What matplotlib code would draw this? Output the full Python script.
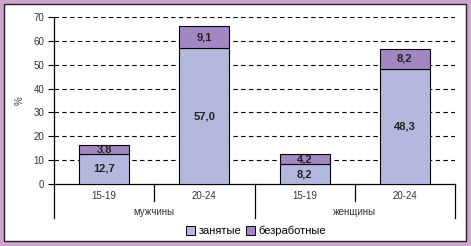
import matplotlib
import matplotlib.pyplot as plt
from matplotlib.patches import Rectangle
from matplotlib.lines import Line2D

matplotlib.use("Agg")

plt.rcParams["font.family"] = ["Liberation Sans", "DejaVu Sans"]

ages = ["15-19", "20-24", "15-19", "20-24"]
groups = ["мужчины", "женщины"]
employed = [12.7, 57.0, 8.2, 48.3]
unemployed = [3.8, 9.1, 4.2, 8.2]
series_names = ["занятые", "безработные"]

c_emp = "#b5b8de"
c_unemp = "#a287c2"
border = "#cfa5d0"

fig = plt.figure(figsize=(4.71, 2.46), dpi=100)
fig.patch.set_facecolor(border)

# white inner panel with dark frame
panel = Rectangle((4 / 471, 5 / 246), 462 / 471, 237 / 246, transform=fig.transFigure,
                  facecolor="white", edgecolor="#222222", linewidth=1.0, zorder=-5)
fig.patches.append(panel)

ax = fig.add_axes([54 / 471, 1 - 184 / 246, 401 / 471, 167 / 246])
ax.set_facecolor("none")
ax.set_zorder(2)

x = range(len(ages))
ax.bar(x, employed, width=0.5, color=c_emp, edgecolor="black", linewidth=0.8, zorder=3)
ax.bar(x, unemployed, bottom=employed, width=0.5, color=c_unemp, edgecolor="black",
       linewidth=0.8, zorder=3)

for i in x:
    ax.text(i, employed[i] / 2, f"{employed[i]:.1f}".replace(".", ","), ha="center",
            va="center", fontsize=8, fontweight="bold", color="#222222", zorder=4)
    ax.text(i, employed[i] + unemployed[i] / 2, f"{unemployed[i]:.1f}".replace(".", ","),
            ha="center", va="center", fontsize=8, fontweight="bold", color="#222222", zorder=4)

ax.set_xlim(-0.5, len(ages) - 0.5)
ax.set_ylim(0, 70)
ax.set_yticks(range(0, 71, 10))
ax.tick_params(axis="y", labelsize=7, length=4, width=0.8, direction="out", pad=3,
               labelcolor="#333333")
ax.set_xticks([])
for yv in range(10, 71, 10):
    ax.axhline(yv, color="black", linestyle=(0, (4, 3)), linewidth=0.8, zorder=1)

for s in ["top", "right"]:
    ax.spines[s].set_visible(False)
ax.spines["bottom"].set_linewidth(0.9)
ax.spines["left"].set_visible(False)

# y axis line extended down into category area
ax.add_line(Line2D([-0.5, -0.5], [1.0, -0.204], transform=ax.get_xaxis_transform(),
                   color="black", linewidth=0.9, clip_on=False))

# category separators
for i in range(len(ages)):
    xs = i + 0.5
    low = -0.204 if i % 2 == 1 else -0.102
    ax.add_line(Line2D([xs, xs], [0, low], transform=ax.get_xaxis_transform(),
                       color="black", linewidth=0.9, clip_on=False))

for i, a in enumerate(ages):
    ax.text(i, -0.07, a, transform=ax.get_xaxis_transform(), ha="center", va="center",
            fontsize=7, color="#333333")
for g, name in enumerate(groups):
    ax.text(2 * g + 0.5, -0.17, name, transform=ax.get_xaxis_transform(), ha="center",
            va="center", fontsize=7, color="#333333")

ax.set_ylabel("%", fontsize=7, color="#333333", labelpad=6)

handles = [Rectangle((0, 0), 1, 1, facecolor=c_emp, edgecolor="black", linewidth=0.7),
           Rectangle((0, 0), 1, 1, facecolor=c_unemp, edgecolor="black", linewidth=0.7)]
fig.legend(handles, series_names, loc="center", bbox_to_anchor=(256 / 471, 1 - 231 / 246),
           ncol=2, frameon=False, fontsize=8, handlelength=0.8, handleheight=0.8,
           handletextpad=0.3, columnspacing=0.4)

fig.savefig("out.png", dpi=100, facecolor=fig.get_facecolor())
